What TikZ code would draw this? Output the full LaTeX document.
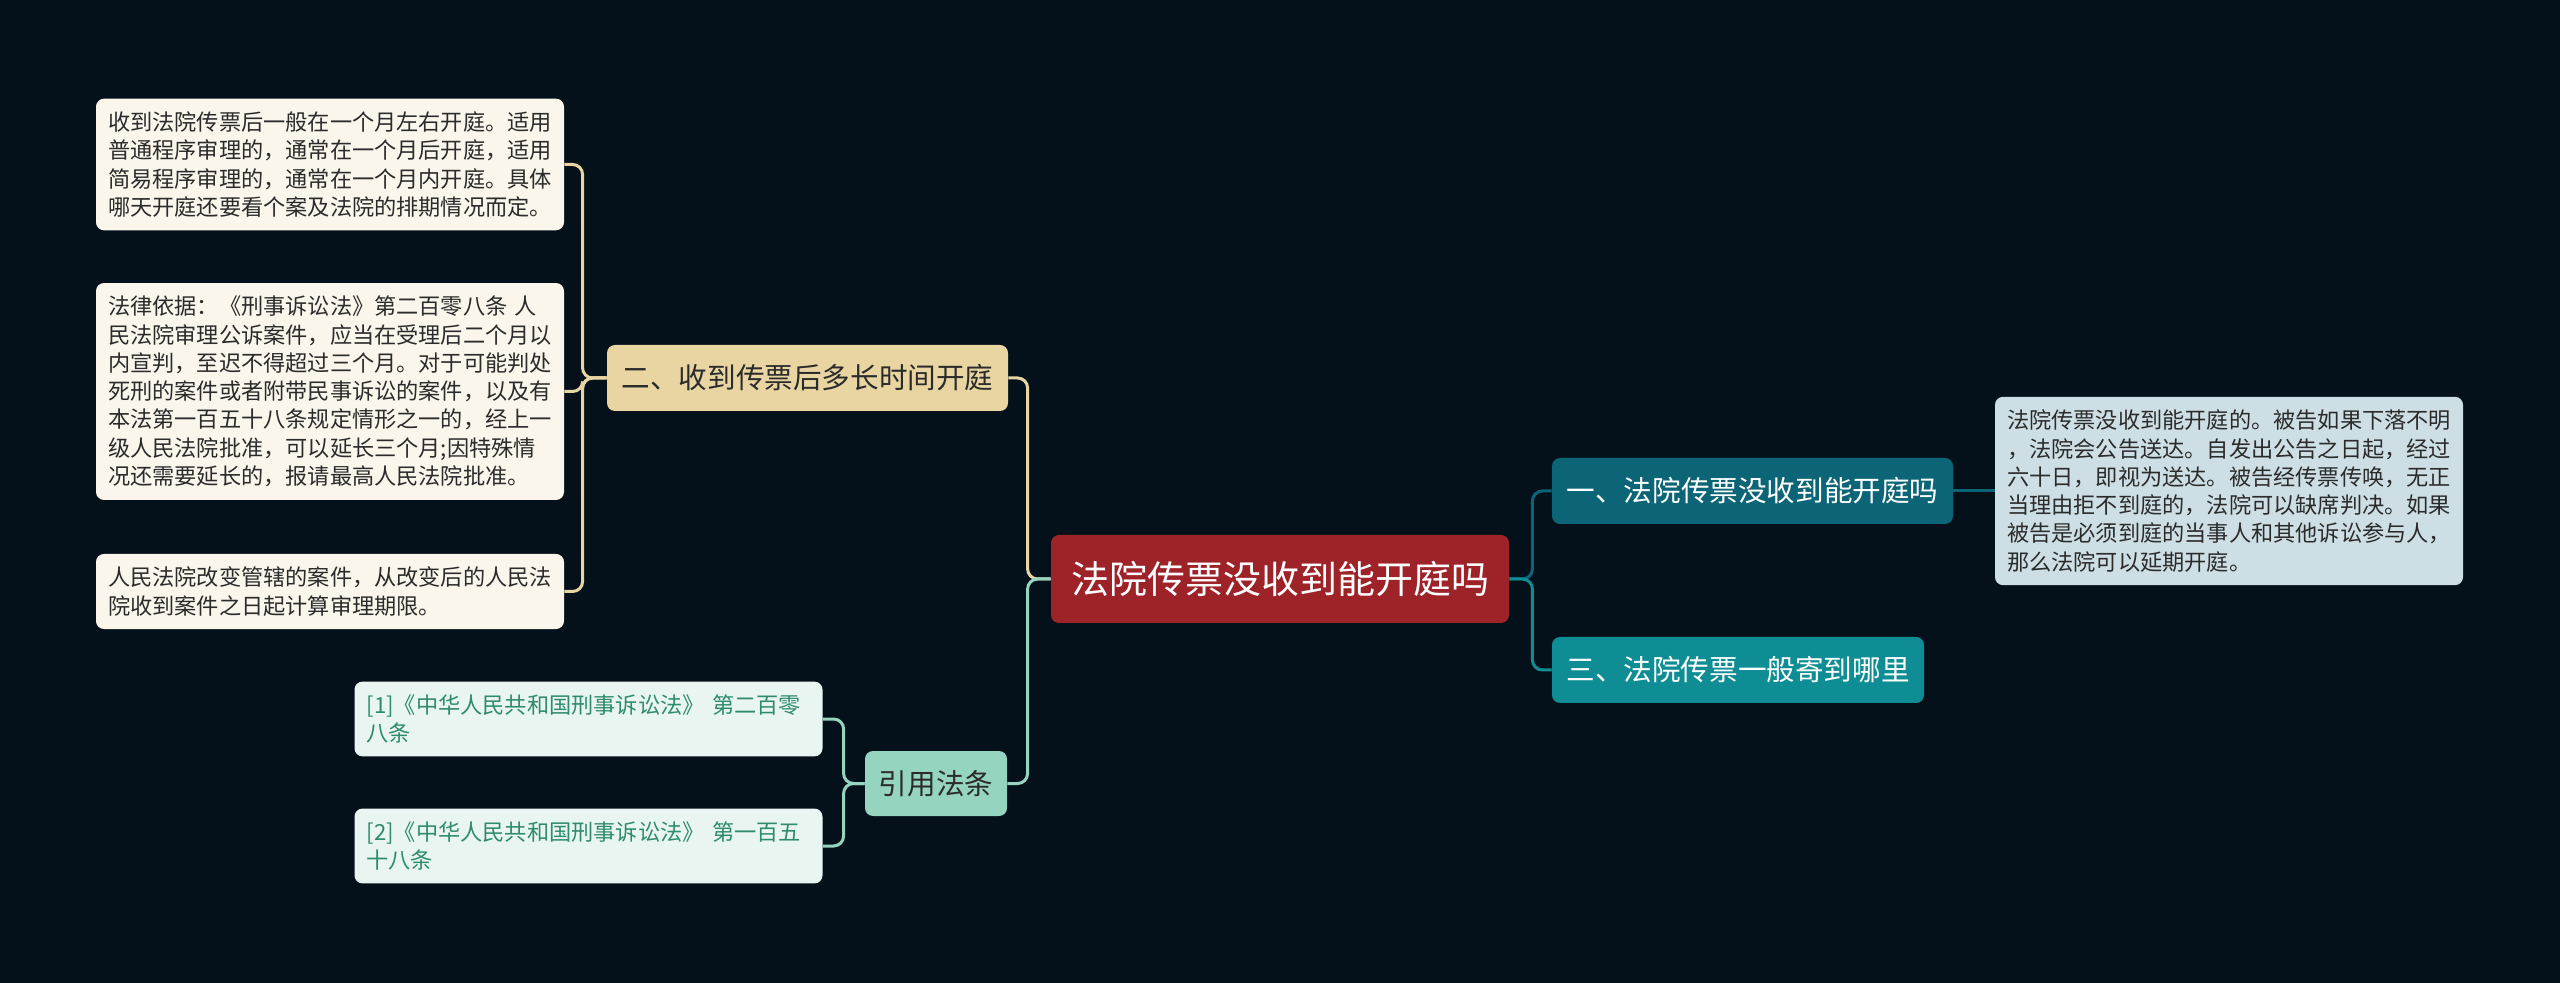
\documentclass[tikz,border=0pt]{standalone}
\usepackage{fontspec}
\newfontfamily\cjk{Noto Sans CJK SC}
\definecolor{bg}{HTML}{04111A}
\definecolor{rootred}{HTML}{9E2329}
\definecolor{beige}{HTML}{E8D5A2}
\definecolor{cream}{HTML}{FAF6EC}
\definecolor{mint}{HTML}{95D4BE}
\definecolor{palemint}{HTML}{E8F5F0}
\definecolor{citetext}{HTML}{2E8B6E}
\definecolor{darkteal}{HTML}{0B6577}
\definecolor{teal}{HTML}{0E8E94}
\definecolor{paleblue}{HTML}{CDDFE4}
\definecolor{ink}{HTML}{2B2B2B}
\begin{document}
\begin{tikzpicture}[x=0.5pt,y=-0.5pt,
	box/.style={rounded corners=4pt,inner sep=0pt,align=center,font=\cjk},
	topic/.style={box,minimum height=33pt,font=\cjk\fontsize{14.3}{17}\selectfont},
	leaf/.style={box,align=left,inner xsep=6pt,inner ysep=6.5pt,text width=222pt,
		font=\cjk\fontsize{11.1}{14.15}\selectfont,text=ink},
	link/.style={line width=1.5pt,rounded corners=5pt}]
	\fill[bg] (0,0) rectangle (2560,983);
	\useasboundingbox (0,0) rectangle (2560,983);
	% root
	\node[box,fill=rootred,text=white,minimum width=229pt,minimum height=44pt,
		font=\cjk\fontsize{19}{22}\selectfont] (root) at (1280,579) {法院传票没收到能开庭吗};
	% right side
	\node[topic,fill=darkteal,text=white,minimum width=200.5pt] (one) at (1752.5,491) {一、法院传票没收到能开庭吗};
	\node[topic,fill=teal,text=white,minimum width=186pt] (three) at (1738,670) {三、法院传票一般寄到哪里};
	\node[leaf,fill=paleblue] (oneleaf) at (2229,491) {法院传票没收到能开庭的。被告如果下落不明\\，法院会公告送达。自发出公告之日起，经过\\六十日，即视为送达。被告经传票传唤，无正\\当理由拒不到庭的，法院可以缺席判决。如果\\被告是必须到庭的当事人和其他诉讼参与人，\\那么法院可以延期开庭。};
	% left side
	\node[topic,fill=beige,text=ink,minimum width=200.5pt] (two) at (807.5,378) {二、收到传票后多长时间开庭};
	\node[leaf,fill=cream] (twoa) at (330,164.5) {收到法院传票后一般在一个月左右开庭。适用\\普通程序审理的，通常在一个月后开庭，适用\\简易程序审理的，通常在一个月内开庭。具体\\哪天开庭还要看个案及法院的排期情况而定。};
	\node[leaf,fill=cream] (twob) at (330,391.5) {法律依据：《刑事诉讼法》第二百零八条 人\\民法院审理公诉案件，应当在受理后二个月以\\内宣判，至迟不得超过三个月。对于可能判处\\死刑的案件或者附带民事诉讼的案件，以及有\\本法第一百五十八条规定情形之一的，经上一\\级人民法院批准，可以延长三个月;因特殊情\\况还需要延长的，报请最高人民法院批准。};
	\node[leaf,fill=cream] (twoc) at (330,591.5) {人民法院改变管辖的案件，从改变后的人民法\\院收到案件之日起计算审理期限。};
	\node[topic,fill=mint,text=ink,minimum width=71pt,minimum height=32.5pt] (cite) at (936,783.5) {引用法条};
	\node[leaf,fill=palemint,text=citetext] (citea) at (588.5,719) {[1]《中华人民共和国刑事诉讼法》 第二百零\\八条};
	\node[leaf,fill=palemint,text=citetext] (citeb) at (588.5,846) {[2]《中华人民共和国刑事诉讼法》 第一百五\\十八条};
	% connectors
	\draw[link,darkteal] (root.east) -- ++(23,0) |- (one.west);
	\draw[link,teal] (root.east) -- ++(23,0) |- (three.west);
	\draw[link,darkteal] (one.east) -- (oneleaf.west);
	\draw[link,beige] (root.west) -- ++(-23,0) |- (two.east);
	\draw[link,mint] (root.west) -- ++(-23,0) |- (cite.east);
	\draw[link,beige] (two.west) -- ++(-24,0) |- (twoa.east);
	\draw[link,beige] (two.west) -- ++(-24,0) |- (twob.east);
	\draw[link,beige] (two.west) -- ++(-24,0) |- (twoc.east);
	\draw[link,mint] (cite.west) -- ++(-21,0) |- (citea.east);
	\draw[link,mint] (cite.west) -- ++(-21,0) |- (citeb.east);
\end{tikzpicture}
\end{document}
